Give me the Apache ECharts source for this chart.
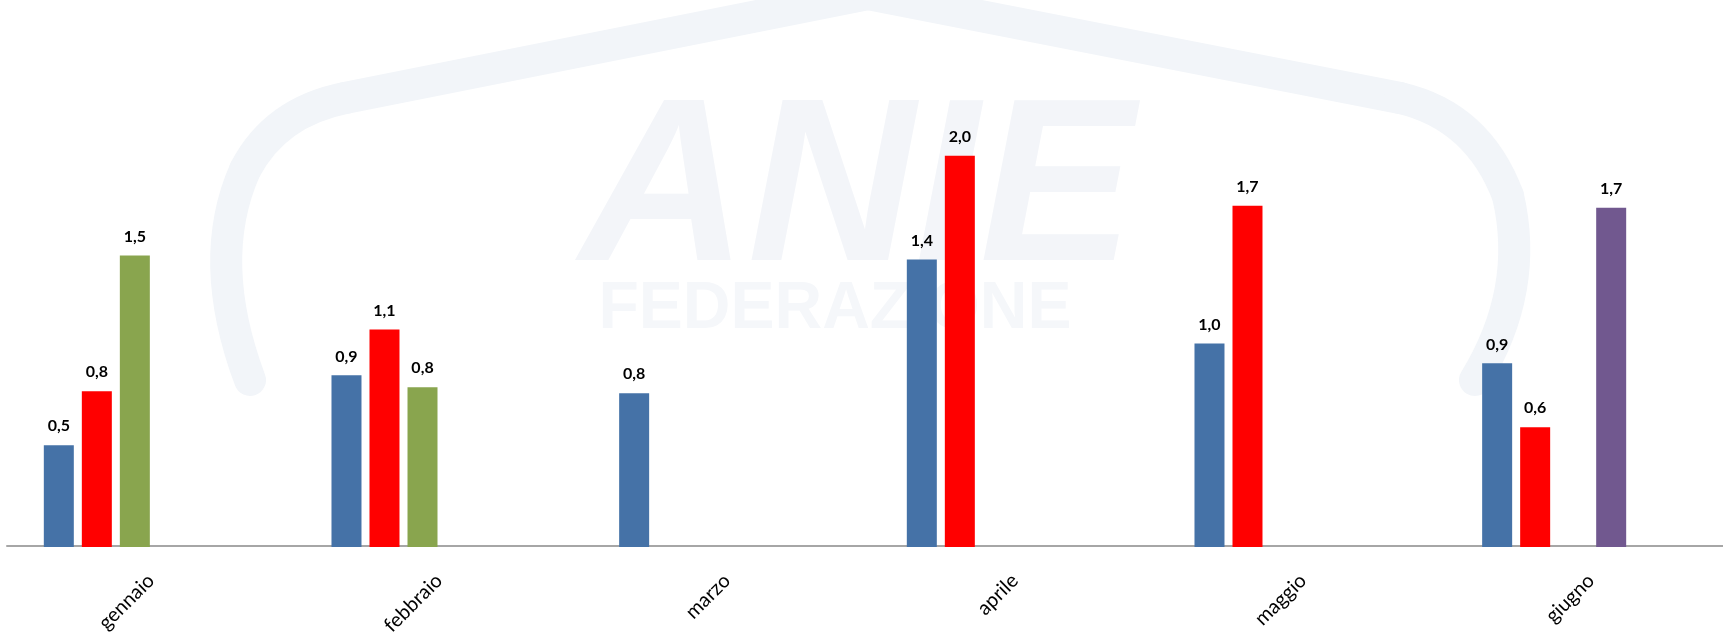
<!DOCTYPE html>
<html>
<head>
<meta charset="utf-8">
<script src="https://cdn.jsdelivr.net/npm/echarts@6/dist/echarts.min.js"></script>
<style>
  html, body { margin: 0; padding: 0; background: #fff; overflow: hidden; }
  /* il grafico originale è tagliato a sinistra: sposto il contenitore */
  #chart { position: absolute; left: -28px; top: 0; width: 1763px; height: 638px; }
</style>
</head>
<body>
<div id="chart"></div>
<script>
// dati
const mesi = ["gennaio", "febbraio", "marzo", "aprile", "maggio", "giugno"];
const serieBlu = [0.51, 0.86, 0.77, 1.44, 1.02, 0.92];
const serieRossa = [0.78, 1.09, "-", 1.96, 1.71, 0.60];
const serieVerde = [1.46, 0.80, "-", "-", "-", "-"];
const serieViola = ["-", "-", "-", "-", "-", 1.70];

const colori = ["#4572A7", "#FF0000", "#89A54E", "#71588F"];
const font = "Lato, 'Open Sans', sans-serif";
const dx = 28; // spostamento del contenitore

const chart = echarts.init(document.getElementById("chart"));

// etichetta sopra la barra, virgola decimale
const etichetta = {
  show: true,
  position: "top",
  distance: 11,
  fontFamily: font,
  fontWeight: "bold",
  fontSize: 16,
  color: "#000",
  formatter: (p) => p.value.toFixed(1).replace(".", ","),
};

function serie(nome, dati, colore) {
  return {
    name: nome,
    type: "bar",
    xAxisIndex: 0,
    yAxisIndex: 0,
    data: dati,
    barWidth: 30,
    barGap: "26.7%",
    itemStyle: { color: colore },
    label: etichetta,
  };
}

// contorno del logo in filigrana
const tratto = { stroke: "#f2f5f9", lineWidth: 32, lineCap: "round", fill: "none" };
function curva(x1, y1, cx, cy, x2, y2) {
  return {
    type: "bezierCurve", z: -10, silent: true,
    shape: { x1: x1 + dx, y1: y1, cpx1: cx + dx, cpy1: cy, x2: x2 + dx, y2: y2 },
    style: tratto,
  };
}
function segmento(x1, y1, x2, y2) {
  return {
    type: "line", z: -10, silent: true,
    shape: { x1: x1 + dx, y1: y1, x2: x2 + dx, y2: y2 },
    style: tratto,
  };
}

const option = {
  animation: false,
  backgroundColor: "#fff",
  graphic: [
    curva(250, 380, 205, 260, 245, 170),
    curva(245, 170, 275, 112, 345, 98),
    segmento(345, 98, 868, -6),
    segmento(868, -6, 1400, 98),
    curva(1400, 98, 1478, 116, 1508, 196),
    curva(1508, 196, 1530, 290, 1475, 380),
    {
      type: "text",
      z: -10,
      silent: true,
      x: 857 + dx,
      y: 196,
      style: {
        text: "ANIE",
        font: "italic bold 232px 'Liberation Sans Narrow', 'Liberation Sans', sans-serif",
        fill: "#f3f5f9",
        textAlign: "center",
        textVerticalAlign: "middle",
      },
    },
    {
      type: "text",
      z: -10,
      silent: true,
      x: 835 + dx,
      y: 310,
      style: {
        text: "FEDERAZIONE",
        font: "bold 66px 'Liberation Sans', sans-serif",
        fill: "#f5f7fa",
        textAlign: "center",
        textVerticalAlign: "middle",
      },
    },
  ],
  grid: [
    { left: 0, right: 37, top: 48, bottom: 91 },
    { left: 7 + dx, right: 0, top: 48, bottom: 91 },
  ],
  xAxis: [
    {
      type: "category",
      gridIndex: 0,
      data: mesi,
      axisLine: { show: false },
      axisTick: { show: false },
      axisLabel: { show: false },
    },
    {
      type: "category",
      gridIndex: 1,
      data: mesi,
      axisLine: { show: true, lineStyle: { color: "#a6a6a6", width: 2 } },
      axisTick: { show: false },
      axisLabel: {
        rotate: 45,
        margin: 32,
        fontFamily: font,
        fontSize: 20,
        color: "#000",
      },
    },
  ],
  yAxis: [
    { type: "value", gridIndex: 0, min: 0, max: 2.5, show: false },
    { type: "value", gridIndex: 1, min: 0, max: 1, show: false },
  ],
  series: [
    serie("blu", serieBlu, colori[0]),
    serie("rossa", serieRossa, colori[1]),
    serie("verde", serieVerde, colori[2]),
    serie("viola", serieViola, colori[3]),
  ],
};

chart.setOption(option);
</script>
</body>
</html>
